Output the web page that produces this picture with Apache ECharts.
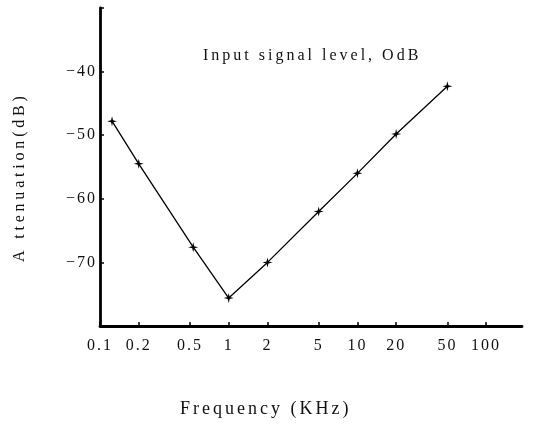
<!DOCTYPE html>
<html>
<head>
<meta charset="utf-8">
<script src="https://cdn.jsdelivr.net/npm/echarts@6/dist/echarts.min.js"></script>
<style>
html,body{margin:0;padding:0;background:#fff;}
#chart{width:533px;height:429px;}
</style>
</head>
<body>
<div id="chart"></div>
<script>
// Data
const frequencyKHz = [0.124, 0.2, 0.53, 1, 2, 5, 10, 20, 50];
const attenuationDB = [-47.8, -54.5, -67.6, -75.6, -70, -62, -56, -49.8, -42.3];
const xTickValues = [0.1, 0.2, 0.5, 1, 2, 5, 10, 20, 50, 100];
const yTickLabels = [-70, -60, -50, -40];
const xAxisTitle = 'Frequency (KHz)';
const yAxisTitle = 'A ttenuation(dB)';
const annotation = 'Input signal level, OdB';

// the scanned figure uses widely spaced lettering
const spacingFor = s => s === annotation ? '3px' : s === yAxisTitle ? '3.8px' : s === xAxisTitle ? '3px' : '2px';
const origFillText = CanvasRenderingContext2D.prototype.fillText;
CanvasRenderingContext2D.prototype.fillText = function (text) {
  const prev = this.letterSpacing;
  if (prev !== undefined) this.letterSpacing = spacingFor(String(text));
  const r = origFillText.apply(this, arguments);
  if (prev !== undefined) this.letterSpacing = prev;
  return r;
};

const serif = '"Liberation Serif", "DejaVu Serif", serif';
const chart = echarts.init(document.getElementById('chart'), null, {renderer: 'canvas'});

const seriesData = frequencyKHz.map((f, i) => [f, attenuationDB[i]]);

chart.setOption({
  animation: false,
  backgroundColor: '#fff',
  grid: {left: 100, right: 11, top: 8, bottom: 103, containLabel: false},
  xAxis: {
    type: 'log',
    logBase: 10,
    min: 0.1,
    max: 190,
    axisLine: {show: true, lineStyle: {color: '#000', width: 2.8}},
    axisTick: {show: true, inside: true, length: 4, lineStyle: {color: '#000', width: 1.5}, customValues: xTickValues},
    axisLabel: {
      show: true, color: '#111', fontFamily: serif, fontSize: 16, margin: 12,
      customValues: xTickValues,
      formatter: v => String(v)
    },
    splitLine: {show: false},
    minorTick: {show: false}
  },
  yAxis: {
    type: 'value',
    min: -80,
    max: -30,
    interval: 10,
    axisLine: {show: true, lineStyle: {color: '#000', width: 2.8}},
    axisTick: {show: true, inside: true, length: 4, lineStyle: {color: '#000', width: 1.5}},
    axisLabel: {
      show: true, color: '#111', fontFamily: serif, fontSize: 16, margin: 3,
      formatter: v => yTickLabels.indexOf(v) >= 0 ? '\u2212' + Math.abs(v) : ''
    },
    splitLine: {show: false}
  },
  series: [{
    type: 'line',
    data: seriesData,
    symbol: 'path://M5 0L6 4L10 5L6 6L5 10L4 6L0 5L4 4Z',
    symbolSize: 10,
    itemStyle: {color: '#000'},
    lineStyle: {color: '#000', width: 1.3},
    z: 5
  }],
  graphic: [
    {
      type: 'text', left: 203, top: 48,
      style: {text: annotation, font: '16px ' + serif, fill: '#111'}
    },
    {
      type: 'text', left: 180, top: 400,
      style: {text: xAxisTitle, font: '18px ' + serif, fill: '#111'}
    },
    {
      type: 'text', x: 12, y: 262, rotation: Math.PI / 2,
      style: {text: yAxisTitle, font: '16px ' + serif, fill: '#111', align: 'left', verticalAlign: 'top'}
    }
  ]
});
</script>
</body>
</html>
